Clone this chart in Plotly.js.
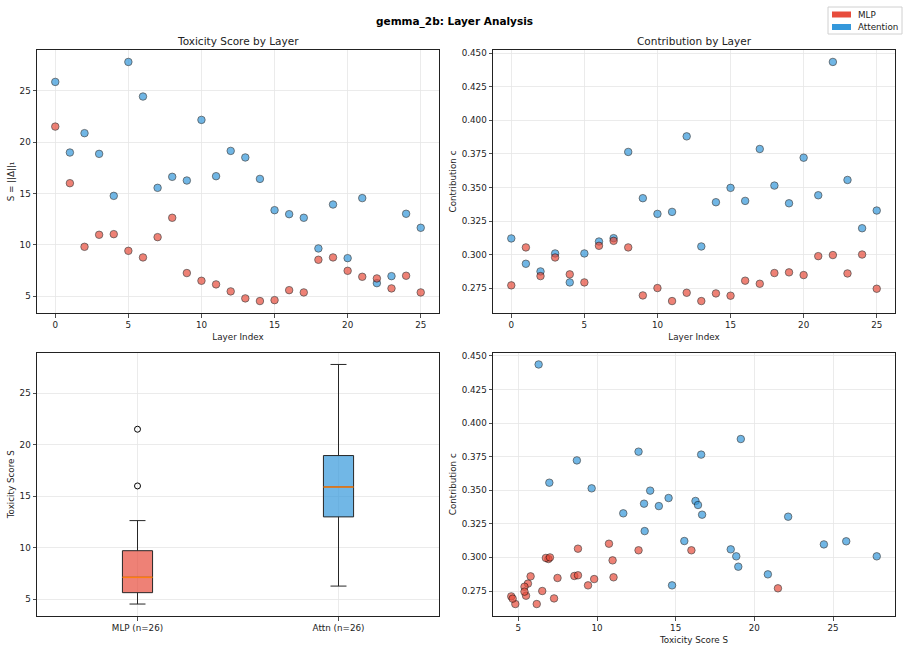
<!DOCTYPE html>
<html>
<head>
<meta charset="utf-8">
<script src="https://cdn.plot.ly/plotly-3.0.1.min.js"></script>
<style>
  html, body { margin: 0; padding: 0; background: #fff; }
  #chart { width: 909px; height: 650px; }
</style>
</head>
<body>
<div id="chart"></div>
<script>
// Layer indices of gemma_2b
const layers = [0, 1, 2, 3, 4, 5, 6, 7, 8, 9, 10, 11, 12, 13, 14, 15, 16, 17, 18, 19, 20, 21, 22, 23, 24, 25];

// Toxicity score S = ||Δ||₁ per layer
const mlpScore = [21.50, 16.00, 9.82, 10.99, 11.05, 9.43, 8.79, 10.76, 12.64, 7.27, 6.52, 6.17, 5.49,
                  4.81, 4.55, 4.64, 5.61, 5.39, 8.56, 8.79, 7.49, 6.91, 6.75, 5.78, 7.01, 5.39];
const attnScore = [25.84, 18.98, 20.86, 18.85, 14.77, 27.78, 24.42, 15.55, 16.62, 16.26, 22.15, 16.68, 19.14,
                   18.50, 16.42, 13.38, 12.99, 12.64, 9.66, 13.93, 8.72, 14.55, 6.29, 6.97, 13.03, 11.67];

// Contribution c per layer
const mlpContrib = [0.2770, 0.3053, 0.2839, 0.2978, 0.2852, 0.2792, 0.3065, 0.3102, 0.3053, 0.2695, 0.2750, 0.2653, 0.2715,
                    0.2653, 0.2710, 0.2693, 0.2805, 0.2782, 0.2862, 0.2867, 0.2847, 0.2988, 0.2996, 0.2859, 0.3000, 0.2745];
const attnContrib = [0.3120, 0.2931, 0.2874, 0.3008, 0.2792, 0.3008, 0.3097, 0.3122, 0.3765, 0.3420, 0.3303, 0.3318, 0.3881,
                     0.3060, 0.3390, 0.3497, 0.3400, 0.3787, 0.3514, 0.3382, 0.3722, 0.3442, 0.4436, 0.3556, 0.3196, 0.3328];

// Box plot group labels
const groupLabels = ["MLP (n=26)", "Attn (n=26)"];
const seriesNames = ["MLP", "Attention"];

const RED = "#e74c3c";
const BLUE = "#3498db";
const FONT = "DejaVu Sans, sans-serif";

// Percentile with linear interpolation between closest ranks
function percentile(sorted, p) {
  const h = (sorted.length - 1) * p;
  const lo = Math.floor(h);
  const hi = Math.min(lo + 1, sorted.length - 1);
  return sorted[lo] + (h - lo) * (sorted[hi] - sorted[lo]);
}

function boxStats(values) {
  const s = values.slice().sort((a, b) => a - b);
  const q1 = percentile(s, 0.25), med = percentile(s, 0.5), q3 = percentile(s, 0.75);
  const iqr = q3 - q1;
  const lo = q1 - 1.5 * iqr, hi = q3 + 1.5 * iqr;
  const inside = s.filter(v => v >= lo && v <= hi);
  return {
    q1, med, q3,
    lowerfence: inside[0],
    upperfence: inside[inside.length - 1],
    outliers: s.filter(v => v < lo || v > hi)
  };
}

function dotMarker(color) {
  return { color: color, size: 7.5, opacity: 0.7, line: { color: "#000", width: 0.7 } };
}

const traces = [];

// Top-left: toxicity score by layer
traces.push({ type: "scatter", mode: "markers", x: layers, y: attnScore, xaxis: "x", yaxis: "y",
              marker: dotMarker(BLUE), showlegend: false });
traces.push({ type: "scatter", mode: "markers", x: layers, y: mlpScore, xaxis: "x", yaxis: "y",
              marker: dotMarker(RED), showlegend: false });

// Top-right: contribution by layer
traces.push({ type: "scatter", mode: "markers", x: layers, y: attnContrib, xaxis: "x2", yaxis: "y2",
              marker: dotMarker(BLUE), showlegend: false });
traces.push({ type: "scatter", mode: "markers", x: layers, y: mlpContrib, xaxis: "x2", yaxis: "y2",
              marker: dotMarker(RED), showlegend: false });

// Bottom-left: box plots of the toxicity score
const boxWidth = 0.15;
const groups = [
  { pos: 1, values: mlpScore, fill: "rgba(231,76,60,0.7)" },
  { pos: 2, values: attnScore, fill: "rgba(52,152,219,0.7)" }
];
groups.forEach(g => {
  const st = boxStats(g.values);
  traces.push({
    type: "box", xaxis: "x3", yaxis: "y3", x: [g.pos],
    q1: [st.q1], median: [st.med], q3: [st.q3],
    lowerfence: [st.lowerfence], upperfence: [st.upperfence],
    width: boxWidth, whiskerwidth: 0.53,
    fillcolor: g.fill, line: { color: "#262626", width: 1 },
    boxpoints: false, showlegend: false, hoverinfo: "skip"
  });
  // median line
  traces.push({
    type: "scatter", mode: "lines", xaxis: "x3", yaxis: "y3",
    x: [g.pos - boxWidth / 2, g.pos + boxWidth / 2], y: [st.med, st.med],
    line: { color: "#ff7f0e", width: 1.5 }, showlegend: false, hoverinfo: "skip"
  });
  if (st.outliers.length) {
    traces.push({
      type: "scatter", mode: "markers", xaxis: "x3", yaxis: "y3",
      x: st.outliers.map(() => g.pos), y: st.outliers,
      marker: { symbol: "circle-open", color: "#000", size: 6, line: { width: 1 } },
      showlegend: false
    });
  }
});

// Bottom-right: contribution vs toxicity score
traces.push({ type: "scatter", mode: "markers", x: attnScore, y: attnContrib, xaxis: "x4", yaxis: "y4",
              marker: dotMarker(BLUE), showlegend: false });
traces.push({ type: "scatter", mode: "markers", x: mlpScore, y: mlpContrib, xaxis: "x4", yaxis: "y4",
              marker: dotMarker(RED), showlegend: false });

// Shared axis styling
const tickFont = { family: FONT, size: 8.75, color: "#222" };
const labelFont = { family: FONT, size: 8.75, color: "#222" };
function axis(extra) {
  return Object.assign({
    showline: true, mirror: true, linecolor: "#222", linewidth: 1,
    ticks: "outside", ticklen: 3.5, tickwidth: 0.8, tickcolor: "#222",
    showgrid: true, gridcolor: "#e6e6e6", gridwidth: 0.8,
    zeroline: false, tickfont: tickFont, automargin: false
  }, extra);
}

const W = 909, H = 650;
const M = { l: 37, r: 14, t: 50, b: 34 };
const PW = W - M.l - M.r, PH = H - M.t - M.b;
const px = v => (v - M.l) / PW;          // pixel x -> paper x
const py = v => (H - M.b - v) / PH;      // pixel y -> paper y

const scoreRange = [3.39, 28.94];
const contribRange = [0.2564, 0.4525];

const layout = {
  width: W, height: H,
  margin: M,
  paper_bgcolor: "#fff", plot_bgcolor: "#fff",
  font: { family: FONT, size: 8.75, color: "#222" },
  showlegend: false,
  xaxis: axis({ domain: [0, px(439)], anchor: "y", range: [-1.25, 26.25], dtick: 5, tick0: 0,
                title: { text: "Layer Index", font: labelFont, standoff: 4 } }),
  yaxis: axis({ domain: [py(313), 1], anchor: "x", range: scoreRange, dtick: 5, tick0: 0,
                title: { text: "S = ||Δ||₁", font: labelFont, standoff: 3 } }),
  xaxis2: axis({ domain: [px(493), 1], anchor: "y2", range: [-1.25, 26.25], dtick: 5, tick0: 0,
                 title: { text: "Layer Index", font: labelFont, standoff: 4 } }),
  yaxis2: axis({ domain: [py(313), 1], anchor: "x2", range: contribRange, dtick: 0.025, tick0: 0,
                 tickformat: ".3f", title: { text: "Contribution c", font: labelFont, standoff: 3 } }),
  xaxis3: axis({ domain: [0, px(439)], anchor: "y3", range: [0.5, 2.5],
                 tickvals: [1, 2], ticktext: groupLabels }),
  yaxis3: axis({ domain: [0, py(352.5)], anchor: "x3", range: scoreRange, dtick: 5, tick0: 0,
                 title: { text: "Toxicity Score S", font: labelFont, standoff: 3 } }),
  xaxis4: axis({ domain: [px(493), 1], anchor: "y4", range: scoreRange, dtick: 5, tick0: 0,
                 title: { text: "Toxicity Score S", font: labelFont, standoff: 4 } }),
  yaxis4: axis({ domain: [0, py(352.5)], anchor: "x4", range: contribRange, dtick: 0.025, tick0: 0,
                 tickformat: ".3f", title: { text: "Contribution c", font: labelFont, standoff: 3 } }),
  annotations: [
    { text: "<b>gemma_2b: Layer Analysis</b>", xref: "paper", yref: "paper",
      x: px(454.5), y: py(21), xanchor: "center", yanchor: "middle", showarrow: false,
      font: { family: FONT, size: 10.5, color: "#000" } },
    { text: "Toxicity Score by Layer", xref: "paper", yref: "paper",
      x: px(238), y: py(41), xanchor: "center", yanchor: "middle", showarrow: false,
      font: { family: FONT, size: 10.5, color: "#222" } },
    { text: "Contribution by Layer", xref: "paper", yref: "paper",
      x: px(694), y: py(41), xanchor: "center", yanchor: "middle", showarrow: false,
      font: { family: FONT, size: 10.5, color: "#222" } },
    // legend labels
    { text: seriesNames[0], xref: "paper", yref: "paper", x: px(856), y: py(14.5),
      xanchor: "left", yanchor: "middle", showarrow: false, font: { family: FONT, size: 8.75, color: "#222" } },
    { text: seriesNames[1], xref: "paper", yref: "paper", x: px(856), y: py(27),
      xanchor: "left", yanchor: "middle", showarrow: false, font: { family: FONT, size: 8.75, color: "#222" } }
  ],
  shapes: [
    // legend frame and colour patches
    { type: "rect", xref: "paper", yref: "paper", x0: px(828), x1: px(902), y0: py(7), y1: py(34),
      line: { color: "#d0d0d0", width: 1 }, fillcolor: "rgba(255,255,255,0.8)" },
    { type: "rect", xref: "paper", yref: "paper", x0: px(832), x1: px(851), y0: py(11.5), y1: py(17.5),
      line: { width: 0 }, fillcolor: RED },
    { type: "rect", xref: "paper", yref: "paper", x0: px(832), x1: px(851), y0: py(24), y1: py(30),
      line: { width: 0 }, fillcolor: BLUE }
  ]
};

Plotly.newPlot("chart", traces, layout, { displayModeBar: false, staticPlot: true });
</script>
</body>
</html>
